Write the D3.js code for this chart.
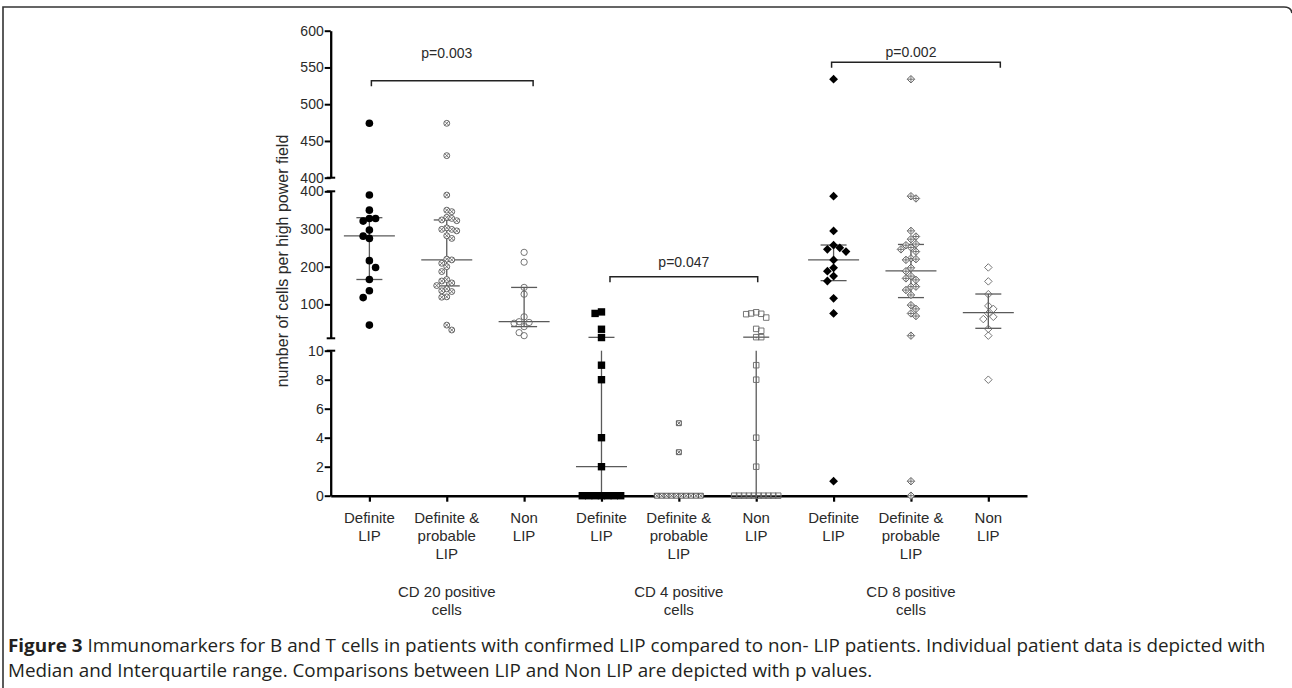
<!DOCTYPE html>
<html><head><meta charset="utf-8">
<script src="https://cdn.jsdelivr.net/npm/d3@7"></script>
<style>body{margin:0;background:#fff} svg{display:block}</style>
</head><body>
<svg id="c" width="1292" height="688"></svg>
<script>
// ---------------- DATA ----------------
const categoryLabels = [
  ["Definite","LIP"], ["Definite &","probable","LIP"], ["Non","LIP"],
  ["Definite","LIP"], ["Definite &","probable","LIP"], ["Non","LIP"],
  ["Definite","LIP"], ["Definite &","probable","LIP"], ["Non","LIP"]
];
const groupLabels = [["CD 20 positive","cells"], ["CD 4 positive","cells"], ["CD 8 positive","cells"]];
const yTicksLow = [0, 2, 4, 6, 8, 10];
const yTicksMid = [100, 200, 300, 400];
const yTicksHigh = [400, 450, 500, 550, 600];
const yAxisTitle = "number of cells per high power field";

const cd20Definite = [474, 390, 350, 328, 321, 328, 297, 275, 281, 216, 198, 166, 136, 118, 45];
const cd20DefProb  = [474, 430, 390, 350, 346, 331, 328, 324, 322, 303, 299, 299, 295, 282, 275, 220, 218, 209, 200, 187, 166, 162, 157, 150, 141, 136, 134, 120, 119, 45, 32];
const cd20Non      = [238, 212, 145, 127, 67, 54, 52, 50, 41, 25, 17];
const cd4Definite  = [80, 76, 34, 12, 9, 8, 4, 2, 0, 0, 0, 0, 0, 0, 0];
const cd4DefProb   = [5, 3, 0, 0, 0, 0, 0, 0, 0, 0, 0, 0];
const cd4Non       = [79, 76, 75, 74, 65, 35, 30, 13, 13, 9, 8, 4, 2, 0, 0, 0, 0, 0, 0, 0, 0, 0, 0];
const cd8Definite  = [534, 387, 295, 257, 250, 246, 240, 218, 197, 188, 175, 162, 116, 76, 1];
const cd8DefProb   = [534, 387, 381, 295, 280, 273, 260, 257, 251, 246, 240, 222, 220, 218, 197, 188, 175, 169, 165, 147, 147, 138, 125, 98, 88, 76, 69, 17, 1, 0];
const cd8Non       = [198, 161, 127, 96, 88, 76, 67, 61, 35, 17, 8];

const medians = [282, 218, 54, 2, 0, 0, 218, 189, 78];
const q1Values = [166, 149, 41, 0, 0, 0, 163, 118, 36.5];
const q3Values = [330, 324, 145, 12.5, 0, 13, 257.5, 259, 127.5];

const pLabels = ["p=0.003", "p=0.047", "p=0.002"];
const pFrom = [0, 3, 6];
const pTo = [2, 5, 8];
const pLevel = [532, 173, 557];

const captionBold = "Figure 3";
const captionLine1 = " Immunomarkers for B and T cells in patients with confirmed LIP compared to non- LIP patients. Individual patient data is depicted with";
const captionLine2 = "Median and Interquartile range. Comparisons between LIP and Non LIP are depicted with p values.";

const seriesValues = [cd20Definite, cd20DefProb, cd20Non, cd4Definite, cd4DefProb, cd4Non, cd8Definite, cd8DefProb, cd8Non];

// ---------------- STYLE / LAYOUT ----------------
const FONT = "'Liberation Sans', Arial, Helvetica, sans-serif";
const TXT = "#2a2a2a";
const markerStyles = [
  {shape:'circle',  fill:'#000', stroke:'#000', r:3.8, inner:null, step:6.2, h:7.2},
  {shape:'circle',  fill:'#fff', stroke:'#555', r:3.4, inner:'x',  step:5,   h:6.4},
  {shape:'circle',  fill:'none', stroke:'#666', r:3.6, inner:null, step:5,   h:6.6},
  {shape:'square',  fill:'#000', stroke:'#000', r:3.7, inner:null, step:6.4, h:7.2},
  {shape:'square',  fill:'#fff', stroke:'#444', r:2.9, inner:'x',  step:5,   h:6},
  {shape:'square',  fill:'none', stroke:'#666', r:3.2, inner:null, step:5,   h:6.4},
  {shape:'diamond', fill:'#000', stroke:'#000', r:4.4, inner:null, step:6.2, h:7.2},
  {shape:'diamond', fill:'#fff', stroke:'#555', r:4.2, inner:'+',  step:5,   h:6.6},
  {shape:'diamond', fill:'none', stroke:'#666', r:4.2, inner:null, step:5,   h:6.6}
];

const svg = d3.select("#c");
const axisX0 = 330.7, axisX1 = 1027, axisY0 = 495.7;

const x = d3.scalePoint().domain(d3.range(categoryLabels.length)).range([axisX0, axisX1]).padding(0.5);

const segments = [
  {scale: d3.scaleLinear().domain([0, 10]).range([495.7, 350.7]), ticks: yTicksLow, lo:0, hi:10},
  {scale: d3.scaleLinear().domain([10, 400]).range([338.3, 191.3]), ticks: yTicksMid, lo:10, hi:400},
  {scale: d3.scaleLinear().domain([400, 600]).range([177.7, 30.7]), ticks: yTicksHigh, lo:400, hi:600}
];
function segOf(v){ return v <= 10 ? segments[0] : (v <= 400 ? segments[1] : segments[2]); }
function yOf(v){ return segOf(v).scale(v); }

// frame
svg.append("path").attr("d", "M3,688 V7 H1284 Q1291,7 1292,13")
  .attr("fill","none").attr("stroke","#333").attr("stroke-width",1.6);

// y axes
segments.forEach((s, i) => {
  const g = svg.append("g").attr("transform", `translate(${axisX0},0)`)
    .call(d3.axisLeft(s.scale).tickValues(s.ticks).tickSize(6).tickSizeOuter(0).tickPadding(1));
  g.select(".domain").attr("stroke","#000").attr("stroke-width",2.3);
  g.selectAll(".tick line").attr("stroke","#000").attr("stroke-width",2);
  g.selectAll(".tick text").attr("font-family",FONT).attr("font-size",14).attr("fill",TXT);
  const ends = [];
  if (i > 0) ends.push(s.lo);
  if (i < segments.length - 1) ends.push(s.hi);
  ends.forEach(v => {
    g.append("line").attr("x1",-4).attr("x2",4.5).attr("y1",s.scale(v)).attr("y2",s.scale(v))
      .attr("stroke","#000").attr("stroke-width",2);
  });
});

// y title
svg.append("text").attr("transform",`translate(288,261) rotate(-90)`)
  .attr("text-anchor","middle").attr("font-family",FONT).attr("font-size",16).attr("fill",TXT)
  .text(yAxisTitle);

// x axis
const gx = svg.append("g").attr("transform",`translate(0,${axisY0})`)
  .call(d3.axisBottom(x).tickSize(6).tickSizeOuter(0).tickFormat(""));
gx.select(".domain").attr("stroke","#000").attr("stroke-width",2.6);
gx.selectAll(".tick line").attr("stroke","#000").attr("stroke-width",2.2);

// category labels
categoryLabels.forEach((lines, i) => {
  const t = svg.append("text").attr("text-anchor","middle").attr("font-family",FONT)
    .attr("font-size",15).attr("fill",TXT);
  lines.forEach((l, j) => t.append("tspan").attr("x", x(i)).attr("y", 523 + j*18).text(l));
});
groupLabels.forEach((lines, gi) => {
  const t = svg.append("text").attr("text-anchor","middle").attr("font-family",FONT)
    .attr("font-size",15).attr("fill",TXT);
  lines.forEach((l, j) => t.append("tspan").attr("x", x(gi*3+1)).attr("y", 597 + j*18).text(l));
});

// median + IQR lines
const lineColor = "#5a5a5a";
seriesValues.forEach((vals, i) => {
  const cx = x(i);
  const g = svg.append("g").attr("stroke", lineColor).attr("stroke-width",1.3);
  segments.forEach(s => {
    const a = Math.max(q1Values[i], s.lo), b = Math.min(q3Values[i], s.hi);
    if (b > a) g.append("line").attr("x1",cx).attr("x2",cx).attr("y1",s.scale(a)).attr("y2",s.scale(b));
  });
  g.append("line").attr("x1",cx-25.5).attr("x2",cx+25.5).attr("y1",yOf(medians[i])).attr("y2",yOf(medians[i]));
  [q1Values[i], q3Values[i]].forEach(q => {
    g.append("line").attr("x1",cx-13).attr("x2",cx+13).attr("y1",yOf(q)).attr("y2",yOf(q));
  });
});

// beeswarm layout
function layout(values, st){
  const pts = values.map(v => ({v, y: yOf(v), x: null}));
  const placed = [];
  const counts = d3.rollup(values, g => g.length, d => d);
  for (const [v, c] of counts) {
    if (c >= 4) {
      const stp = Math.min(st.step, 44 / (c - 1));
      pts.filter(p => p.v === v).forEach((p, k) => { p.x = (k - (c - 1) / 2) * stp; placed.push(p); });
    }
  }
  const rest = pts.filter(p => p.x === null).sort((a, b) => a.y - b.y);
  rest.forEach((p, idx) => {
    for (let k = 0; k < 60; k++) {
      const cands = k === 0 ? [0] : (idx % 2 ? [-k*st.step, k*st.step] : [k*st.step, -k*st.step]);
      const ok = cands.find(c => !placed.some(q => Math.abs(q.x - c) < st.step*0.99 && Math.abs(q.y - p.y) < st.h));
      if (ok !== undefined) { p.x = ok; placed.push(p); break; }
    }
  });
  return pts;
}

function markerPath(shape, r){
  if (shape === 'square') return `M${-r},${-r}H${r}V${r}H${-r}Z`;
  return `M0,${-r}L${r},0L0,${r}L${-r},0Z`;
}

seriesValues.forEach((vals, i) => {
  const st = markerStyles[i];
  const pts = layout(vals, st);
  const g = svg.append("g");
  pts.forEach(p => {
    const m = g.append("g").attr("transform", `translate(${x(i) + p.x},${p.y})`);
    const filled = st.fill === '#000';
    const rr = filled ? st.r : st.r - 0.45;
    if (st.shape === 'circle') {
      m.append("circle").attr("r", rr).attr("fill", st.fill)
        .attr("stroke", st.stroke).attr("stroke-width", filled ? 0 : 0.9);
    } else {
      m.append("path").attr("d", markerPath(st.shape, rr))
        .attr("fill", st.fill).attr("stroke", st.stroke).attr("stroke-width", filled ? 0 : 0.9);
    }
    if (st.inner === 'x') {
      const a = st.r * 0.6;
      m.append("path").attr("d", `M${-a},${-a}L${a},${a}M${-a},${a}L${a},${-a}`)
        .attr("stroke", st.stroke).attr("stroke-width", 0.8);
    } else if (st.inner === '+') {
      const a = st.r * 0.75;
      m.append("path").attr("d", `M${-a},0H${a}M0,${-a}V${a}`)
        .attr("stroke", st.stroke).attr("stroke-width", 0.8);
    }
  });
});

// p-value brackets
const bracketDx = [[2, 9], [8.5, 1.5], [-2, 12]];
const pTextY = [57.5, 267, 57];
pLabels.forEach((lab, i) => {
  const x0 = x(pFrom[i]) + bracketDx[i][0], x1 = x(pTo[i]) + bracketDx[i][1];
  const yb = yOf(pLevel[i]);
  svg.append("path").attr("d", `M${x0},${yb+5.5}V${yb}H${x1}V${yb+5.5}`)
    .attr("fill","none").attr("stroke","#222").attr("stroke-width",1.5);
  svg.append("text").attr("x", x(pFrom[i] + 1) + (i === 1 ? 5 : 0)).attr("y", pTextY[i])
    .attr("text-anchor","middle").attr("font-family",FONT).attr("font-size",14).attr("fill",TXT).text(lab);
});

// caption (both lines share one horizontal scale, fitted to line 1)
function captionText(parts){
  const t = svg.append("text").attr("x", 0).attr("y", 0)
    .attr("font-family","'Open Sans', 'Noto Sans', sans-serif").attr("font-size",18.5).attr("fill","#231f20");
  parts.forEach(p => t.append("tspan").attr("font-weight", p.bold ? 700 : 400).text(p.text));
  return t;
}
const c1 = captionText([{text: captionBold, bold: true}, {text: captionLine1, bold: false}]);
const c2 = captionText([{text: captionLine2, bold: false}]);
const k = 1258 / c1.node().getComputedTextLength();
c1.attr("transform", `translate(8,652) scale(${k},1)`);
c2.attr("transform", `translate(8,677) scale(${k},1)`);
</script>
</body></html>
